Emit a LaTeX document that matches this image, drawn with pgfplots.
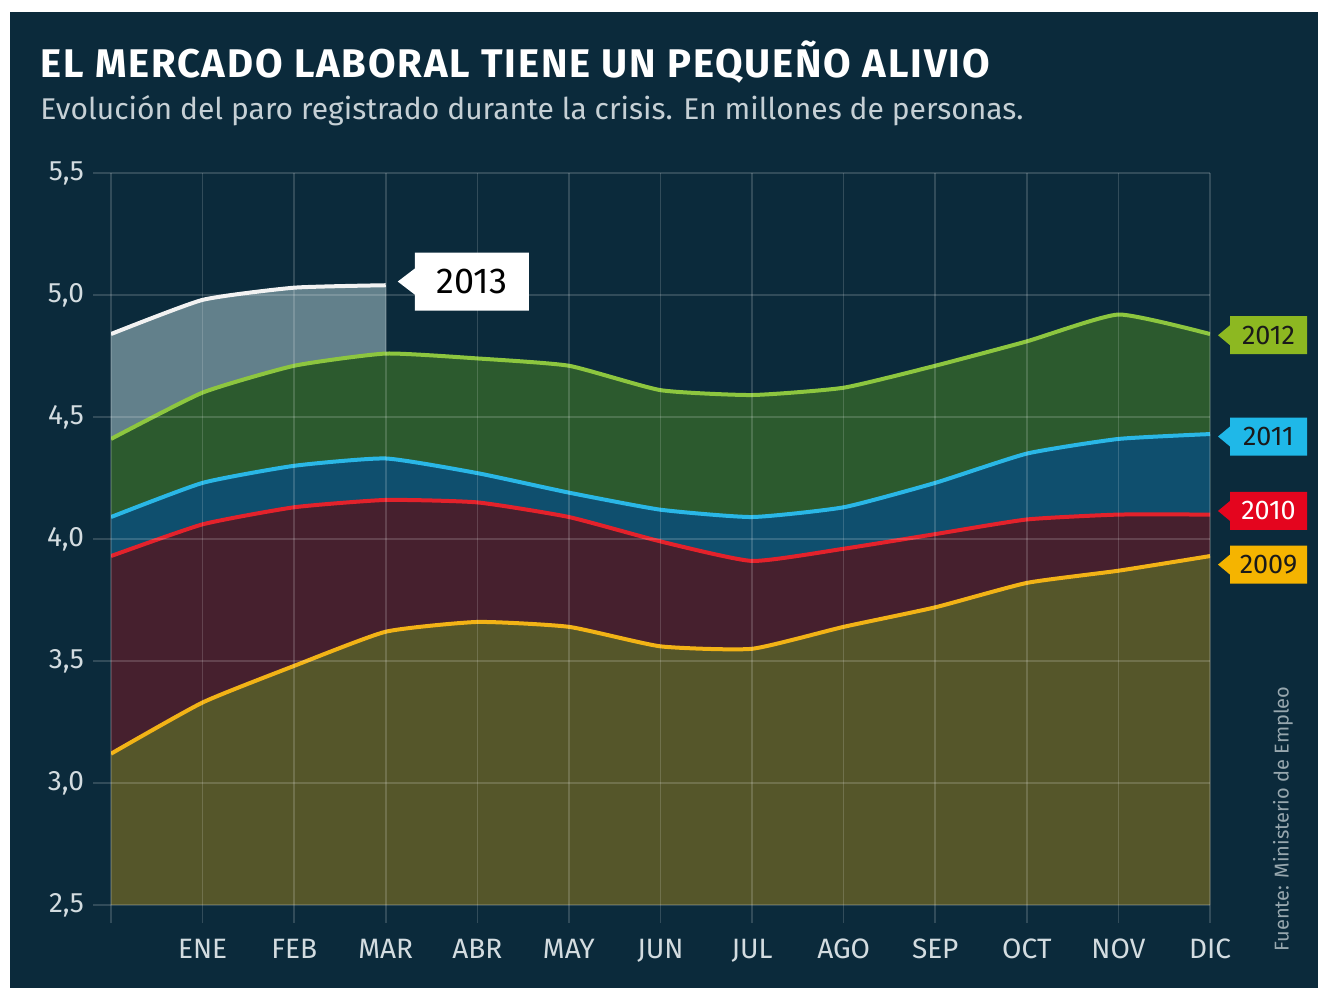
\documentclass[border=0pt]{standalone}
\usepackage{fontspec}
\setmainfont{Fira Sans}
\newfontfamily\titlefont[LetterSpace=4.5]{Fira Sans}
\usepackage{pgfplots}
\pgfplotsset{compat=1.18}
\definecolor{bg}{HTML}{0B2A3B}
\definecolor{labc}{HTML}{D3DCE0}
\definecolor{subc}{HTML}{C6D0D5}
\definecolor{f13}{HTML}{62808B}
\definecolor{f12}{HTML}{2C5A2E}
\definecolor{f11}{HTML}{0F4F6E}
\definecolor{f10}{HTML}{46202E}
\definecolor{f09}{HTML}{55562A}
\definecolor{l13}{HTML}{F2F2F2}
\definecolor{l12}{HTML}{8DC63F}
\definecolor{l11}{HTML}{2AB7E6}
\definecolor{l10}{HTML}{E3222B}
\definecolor{l09}{HTML}{F2B316}
\definecolor{t12}{HTML}{8DB821}
\definecolor{t11}{HTML}{1FB8E8}
\definecolor{t10}{HTML}{E4051E}
\definecolor{t09}{HTML}{F5B400}
\definecolor{tdark}{HTML}{1A1A1A}
\begin{document}
\begin{tikzpicture}
\fill[white] (0,0) rectangle (659pt,494pt);
\fill[bg] (5pt,0) rectangle (659pt,488pt);
\useasboundingbox (0,0) rectangle (659pt,494pt);
\node[anchor=base west, inner sep=0pt, text=white, font=\titlefont\fontsize{20}{23}\selectfont\bfseries] at (20pt,455pt) {EL MERCADO LABORAL TIENE UN PEQUEÑO ALIVIO};
\node[anchor=base west, inner sep=0pt, text=subc, font=\fontsize{15}{18}\selectfont] at (20pt,434pt) {Evolución del paro registrado durante la crisis. En millones de personas.};
\begin{axis}[
  at={(55.5pt,41.5pt)}, anchor=south west,
  width=549.5pt, height=366pt, scale only axis,
  xmin=0, xmax=12, ymin=2.5, ymax=5.5,
  xtick={0,...,12},
  xticklabels={,ENE,FEB,MAR,ABR,MAY,JUN,JUL,AGO,SEP,OCT,NOV,DIC},
  ytick={2.5,3,3.5,4,4.5,5,5.5},
  xtick pos=lower, ytick pos=left,
  grid=major,
  grid style={white, opacity=0.16, line width=0.8pt},
  axis line style={draw=none},
  tick align=outside, major tick length=9pt,
  tick style={white, opacity=0.16, line width=0.8pt},
  ticklabel style={font=\fontsize{14}{16}\selectfont, text=labc},
  xticklabel style={yshift=-4.5pt},
  yticklabel style={xshift=-1pt},
  /pgf/number format/.cd, fixed, fixed zerofill, precision=1, use comma, assume math mode=true,
  /pgfplots/.cd,
  axis on top,
  clip=true, clip mode=individual,
]
% fills (stacked by overpainting)
\addplot[fill=f13, draw=none, smooth, tension=0.3] coordinates {(0,4.84)(1,4.98)(2,5.03)(3,5.04)} \closedcycle;
\addplot[fill=f12, draw=none, smooth, tension=0.3] coordinates {(0,4.41)(1,4.60)(2,4.71)(3,4.76)(4,4.74)(5,4.71)(6,4.61)(7,4.59)(8,4.62)(9,4.71)(10,4.81)(11,4.92)(12,4.84)} \closedcycle;
\addplot[fill=f11, draw=none, smooth, tension=0.3] coordinates {(0,4.09)(1,4.23)(2,4.30)(3,4.33)(4,4.27)(5,4.19)(6,4.12)(7,4.09)(8,4.13)(9,4.23)(10,4.35)(11,4.41)(12,4.43)} \closedcycle;
\addplot[fill=f10, draw=none, smooth, tension=0.3] coordinates {(0,3.93)(1,4.06)(2,4.13)(3,4.16)(4,4.15)(5,4.09)(6,3.99)(7,3.91)(8,3.96)(9,4.02)(10,4.08)(11,4.10)(12,4.10)} \closedcycle;
\addplot[fill=f09, draw=none, smooth, tension=0.3] coordinates {(0,3.12)(1,3.33)(2,3.48)(3,3.62)(4,3.66)(5,3.64)(6,3.56)(7,3.55)(8,3.64)(9,3.72)(10,3.82)(11,3.87)(12,3.93)} \closedcycle;
% lines
\addplot[l13, line width=2pt, smooth, tension=0.3] coordinates {(0,4.84)(1,4.98)(2,5.03)(3,5.04)};
\addplot[l12, line width=2pt, smooth, tension=0.3] coordinates {(0,4.41)(1,4.60)(2,4.71)(3,4.76)(4,4.74)(5,4.71)(6,4.61)(7,4.59)(8,4.62)(9,4.71)(10,4.81)(11,4.92)(12,4.84)};
\addplot[l11, line width=2pt, smooth, tension=0.3] coordinates {(0,4.09)(1,4.23)(2,4.30)(3,4.33)(4,4.27)(5,4.19)(6,4.12)(7,4.09)(8,4.13)(9,4.23)(10,4.35)(11,4.41)(12,4.43)};
\addplot[l10, line width=2pt, smooth, tension=0.3] coordinates {(0,3.93)(1,4.06)(2,4.13)(3,4.16)(4,4.15)(5,4.09)(6,3.99)(7,3.91)(8,3.96)(9,4.02)(10,4.08)(11,4.10)(12,4.10)};
\addplot[l09, line width=2pt, smooth, tension=0.3] coordinates {(0,3.12)(1,3.33)(2,3.48)(3,3.62)(4,3.66)(5,3.64)(6,3.56)(7,3.55)(8,3.64)(9,3.72)(10,3.82)(11,3.87)(12,3.93)};
\coordinate (c12) at (axis cs:12,4.835);
\coordinate (c11) at (axis cs:12,4.42);
\coordinate (c10) at (axis cs:12,4.115);
\coordinate (c09) at (axis cs:12,3.895);
\coordinate (c13) at (axis cs:3,5.055);
\end{axis}
% tags
\fill[t12] (c12) ++(4pt,0) -- ++(6pt,5pt) -- ++(0,4.5pt) -- ++(38.5pt,0) -- ++(0,-19pt) -- ++(-38.5pt,0) -- ++(0,4.5pt) -- cycle;
\node[text=tdark, font=\fontsize{13.5}{15}\selectfont] at ([xshift=29.25pt]c12) {2012};
\fill[t11] (c11) ++(4pt,0) -- ++(6pt,5pt) -- ++(0,4.5pt) -- ++(38.5pt,0) -- ++(0,-19pt) -- ++(-38.5pt,0) -- ++(0,4.5pt) -- cycle;
\node[text=tdark, font=\fontsize{13.5}{15}\selectfont] at ([xshift=29.25pt]c11) {2011};
\fill[t10] (c10) ++(4pt,0) -- ++(6pt,5pt) -- ++(0,4.5pt) -- ++(38.5pt,0) -- ++(0,-19pt) -- ++(-38.5pt,0) -- ++(0,4.5pt) -- cycle;
\node[text=white, font=\fontsize{13.5}{15}\selectfont] at ([xshift=29.25pt]c10) {2010};
\fill[t09] (c09) ++(4pt,0) -- ++(6pt,5pt) -- ++(0,4.5pt) -- ++(38.5pt,0) -- ++(0,-19pt) -- ++(-38.5pt,0) -- ++(0,4.5pt) -- cycle;
\node[text=tdark, font=\fontsize{13.5}{15}\selectfont] at ([xshift=29.25pt]c09) {2009};
\fill[white] (c13) ++(6pt,0) -- ++(8.5pt,6.5pt) -- ++(0,8pt) -- ++(57pt,0) -- ++(0,-29pt) -- ++(-57pt,0) -- ++(0,8pt) -- cycle;
\node[text=black, font=\fontsize{18}{21}\selectfont] at ([xshift=43pt]c13) {2013};
\node[rotate=90, text=labc!70!bg, font=\fontsize{10}{12}\selectfont] at (641.5pt,84.5pt) {Fuente: Ministerio de Empleo};
\end{tikzpicture}
\end{document}
